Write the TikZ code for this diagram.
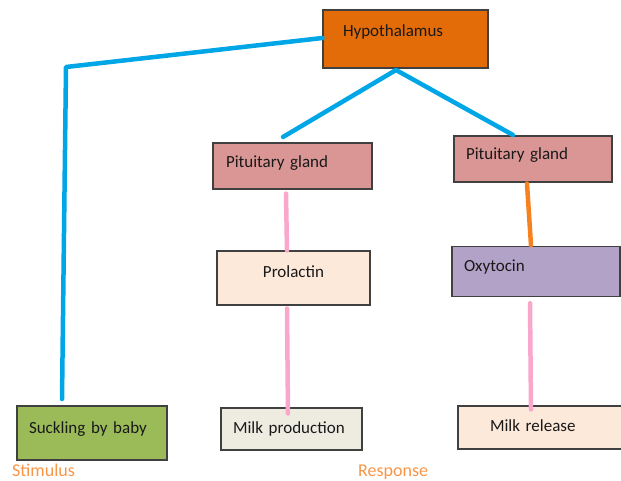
\documentclass[tikz,border=0pt]{standalone}
\usepackage{fontspec}
\setmainfont{Carlito}
\definecolor{hypc}{HTML}{E36C09}
\definecolor{pitc}{HTML}{D99694}
\definecolor{prolc}{HTML}{FDE9D9}
\definecolor{oxyc}{HTML}{B3A2C7}
\definecolor{suckc}{HTML}{9BBB59}
\definecolor{milkpc}{HTML}{EEECE1}
\definecolor{milkrc}{HTML}{FDE9D9}
\definecolor{bluec}{HTML}{00A6E6}
\definecolor{pinkc}{HTML}{F9A8CB}
\definecolor{orangec}{HTML}{F6821F}
\definecolor{labc}{HTML}{F79646}
\definecolor{edgec}{HTML}{404040}
\begin{document}
\begin{tikzpicture}[x=1pt,y=-1pt,
  box/.style={draw=edgec, line width=1.1pt, rectangle, inner ysep=0pt,
    font=\fontsize{17}{18}\selectfont, text=black!90, align=left, text height=12pt},
  conn/.style={line width=4.5pt, line cap=round, line join=round},
  blueline/.style={conn, draw=bluec},
  pinkline/.style={conn, draw=pinkc},
  orangeline/.style={conn, draw=orangec},
  tag/.style={font=\fontsize{18}{19}\selectfont, text=labc, inner sep=0pt}]
\useasboundingbox (0,0) rectangle (621,481);

\node[box, fill=hypc, minimum width=165pt, minimum height=58pt, inner xsep=20pt, text width=125pt, text depth=16.6pt] (hyp) at (405.5,39) {Hypothalamus};
\node[box, fill=pitc, minimum width=159pt, minimum height=46pt, inner xsep=13pt, text width=133pt, text depth=8pt] (pit1) at (292.5,166) {Pituitary gland};
\node[box, fill=pitc, minimum width=158pt, minimum height=46pt, inner xsep=12pt, text width=134pt, text depth=10pt] (pit2) at (533,159) {Pituitary gland};
\node[box, fill=prolc, minimum width=153pt, minimum height=54pt, inner xsep=10pt, text width=133pt, align=center, text depth=14pt] (prol) at (293.5,278) {Prolactin};
\node[box, fill=oxyc, minimum width=168pt, minimum height=50pt, inner xsep=12pt, text width=144pt, text depth=13.4pt] (oxy) at (536,271.7) {Oxytocin};
\node[box, fill=suckc, minimum width=150pt, minimum height=54pt, inner xsep=12pt, text width=126pt, text depth=12pt] (suck) at (92,433) {Suckling by baby};
\node[box, fill=milkpc, minimum width=141pt, minimum height=42pt, inner xsep=12pt, text width=117pt, text depth=4pt] (milkp) at (291.5,429) {Milk production};
\node[box, fill=milkrc, minimum width=166pt, minimum height=43pt, inner xsep=32pt, text width=102pt, text depth=5pt] (milkr) at (541,427.5) {Milk release};

\node[tag, anchor=west] (stim) at (12,470) {Stimulus};
\node[tag, anchor=west] (resp) at (358,472) {Response};

% stimulus path
\coordinate (bend) at (66,67);
\coordinate (stimend) at (62,399);
\draw[blueline] ([yshift=1pt]hyp.west) -- (bend) -- (stimend);
% hypothalamus to pituitaries
\coordinate (fork) at (396,70);
\coordinate (p1end) at (283,137);
\coordinate (p2end) at (513,135);
\draw[blueline] (p1end) -- (fork) -- (p2end);
% pituitary to hormones
\draw[pinkline] ([xshift=-6.5pt,yshift=-4pt]pit1.south) -- ([xshift=-6.5pt]prol.north);
\draw[orangeline] ([xshift=-6pt,yshift=-1pt]pit2.south) -- ([xshift=-5pt,yshift=1pt]oxy.north);
% hormones to responses
\draw[pinkline] ([xshift=-6.5pt,yshift=-3pt]prol.south) -- ([xshift=-3.5pt,yshift=-6pt]milkp.north);
\draw[pinkline] ([xshift=-6pt,yshift=-6pt]oxy.south) -- ([xshift=-10pt,yshift=-4pt]milkr.north);
\end{tikzpicture}
\end{document}
